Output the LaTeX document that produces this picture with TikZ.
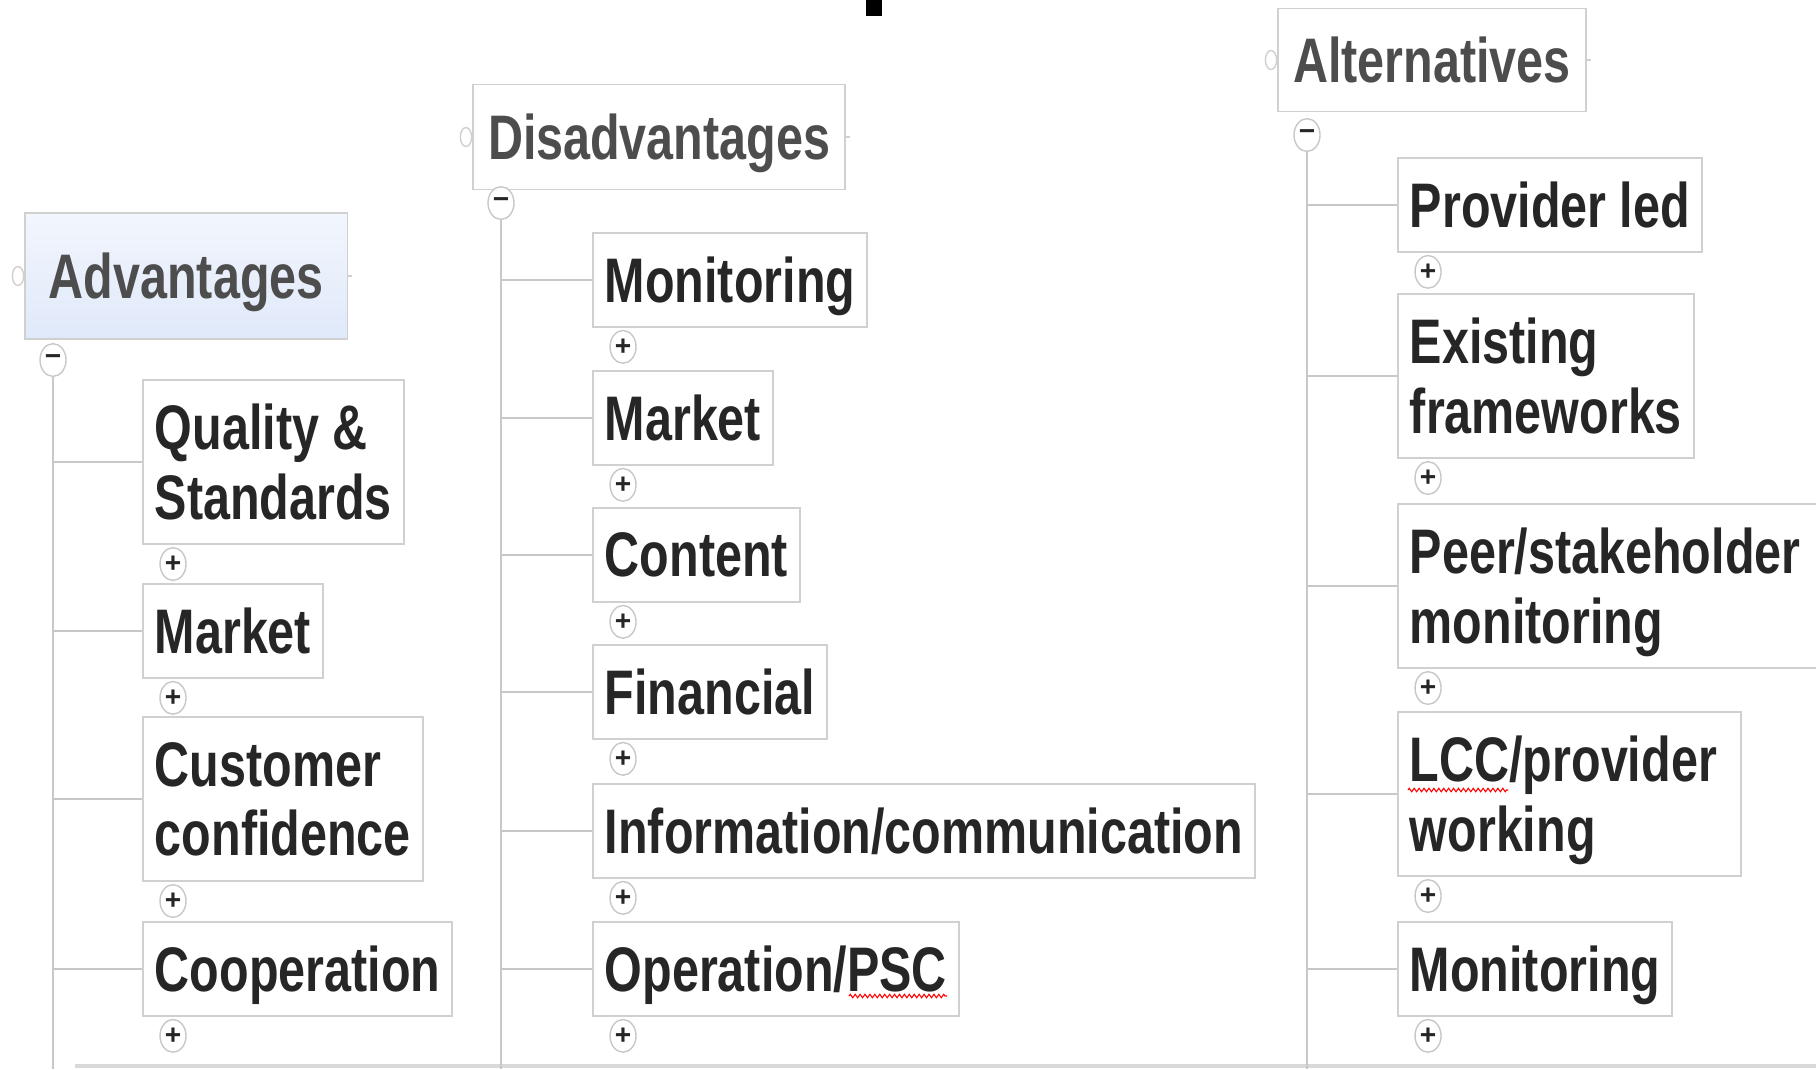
\documentclass[tikz,border=0pt]{standalone}
\usepackage{fontspec}
\newfontfamily\mapfont[FakeStretch=0.77]{Liberation Sans}
\newfontfamily\knobfont{Liberation Sans}
\usetikzlibrary{shapes.geometric,decorations.pathmorphing}

\definecolor{boxline}{RGB}{208,208,208}
\definecolor{linkgray}{RGB}{200,200,200}
\definecolor{toptext}{RGB}{77,77,77}
\definecolor{subtext}{RGB}{38,38,38}
\definecolor{selTop}{RGB}{242,246,253}
\definecolor{selBot}{RGB}{224,233,250}

% little "+" knob under the lower left corner of a topic
\newcommand\morebelow[1]{\node[expander] (#1-more) at ([xshift=0.31cm,yshift=-0.19cm]#1.south west) {+};}

\begin{document}
\begin{tikzpicture}[x=0.01cm, y=-0.01cm,
  topic/.style = {draw=boxline, line width=0.5pt, fill=white, anchor=west,
    font=\mapfont\bfseries\fontsize{17.9}{19.9}\selectfont, text=toptext,
    text depth=0pt, inner xsep=4.3pt, inner ysep=0pt, minimum height=29.8pt},
  sub/.style = {topic, text=subtext, inner xsep=3.4pt, align=left,
    minimum height=26.7pt},
  twoline/.style = {minimum height=46.7pt},
  expander/.style = {ellipse, draw=linkgray, line width=0.4pt, fill=white,
    inner sep=0pt, minimum width=7.4pt, minimum height=9.3pt,
    font=\knobfont\bfseries\fontsize{8}{8}\selectfont, text=subtext},
  knob/.style = {ellipse, draw=boxline, line width=0.4pt, fill=white,
    inner sep=0pt, minimum width=3.2pt, minimum height=5.4pt},
  link/.style = {draw=linkgray, line width=0.6pt},
  trunk/.style = {draw=linkgray, line width=0.8pt},
  spell/.style = {draw=red, line width=0.3pt, decorate,
    decoration={zigzag, amplitude=0.5pt, segment length=1.4pt}}]

  \useasboundingbox (0,0) rectangle (1816,1069);
  \clip (0,0) rectangle (1816,1069);
  \fill[white] (0,0) rectangle (1816,1069);

  \coordinate (bottom) at (0,1069);
  \fill[black] (866,0) rectangle (882,16);
  \draw[draw=boxline!80, line width=0.9pt] (75,1066) -- (1816,1066);

  % main topics
  \node[topic, inner xsep=6.8pt, minimum height=35.8pt,
    top color=selTop, bottom color=selBot] (adv) at (24,276) {Advantages};
  \node[topic] (dis) at (472,137) {Disadvantages};
  \node[topic, minimum height=29.3pt] (alt) at (1277,60) {Alternatives};

  \foreach \t in {adv,dis,alt} {
    \node[knob] (\t-knob) at ([xshift=-0.06cm]\t.west) {};
    \draw[boxline, line width=0.5pt] (\t.east) -- ++(4,0);
  }

  \node[expander] (advExp) at (53,360) {\knobfont −};
  \node[expander] (disExp) at (501,203) {\knobfont −};
  \node[expander] (altExp) at (1307,135) {\knobfont −};

  % advantages
  \node[sub, twoline] (qual) at (142,462) {Quality \&\\Standards};
  \node[sub] (advMarket) at (142,631) {Market};
  \node[sub, twoline] (custConf) at (142,799) {Customer\\confidence};
  \node[sub] (coop) at (142,969) {Cooperation};

  % disadvantages
  \node[sub] (disMon) at (592,280) {Monitoring};
  \node[sub] (disMarket) at (592,418) {Market};
  \node[sub] (content) at (592,555) {Content};
  \node[sub] (fin) at (592,692) {Financial};
  \node[sub] (info) at (592,831) {Information/communication};
  \node[sub] (opPSC) at (592,969) {Operation/PSC};

  % alternatives
  \node[sub] (provLed) at (1397,205) {Provider led};
  \node[sub, twoline] (existing) at (1397,376) {Existing\\frameworks};
  \node[sub, twoline] (peer) at (1397,586) {Peer/stakeholder\hspace*{12pt}\\monitoring};
  \node[sub, twoline] (lcc) at (1397,794) {LCC/provider\hspace*{3.4pt}\\working};
  \node[sub] (altMon) at (1397,969) {Monitoring};

  % trunks and branches
  \draw[trunk] (advExp.south) -- (advExp.south |- bottom);
  \draw[trunk] (disExp.south) -- (disExp.south |- bottom);
  \draw[trunk] (altExp.south) -- (altExp.south |- bottom);
  \foreach \n in {qual,advMarket,custConf,coop}
    \draw[link] (advExp |- \n.west) -- (\n.west);
  \foreach \n in {disMon,disMarket,content,fin,info,opPSC}
    \draw[link] (disExp |- \n.west) -- (\n.west);
  \foreach \n in {provLed,existing,peer,lcc,altMon}
    \draw[link] (altExp |- \n.west) -- (\n.west);

  \foreach \n in {qual,advMarket,custConf,coop,disMon,disMarket,content,fin,
                  info,opPSC,provLed,existing,peer,lcc,altMon}
    {\morebelow{\n}}

  % spell-check marks
  \draw[spell] (849,996) -- (947,996);
  \draw[spell] (1408,790) -- (1508,790);
\end{tikzpicture}
\end{document}
